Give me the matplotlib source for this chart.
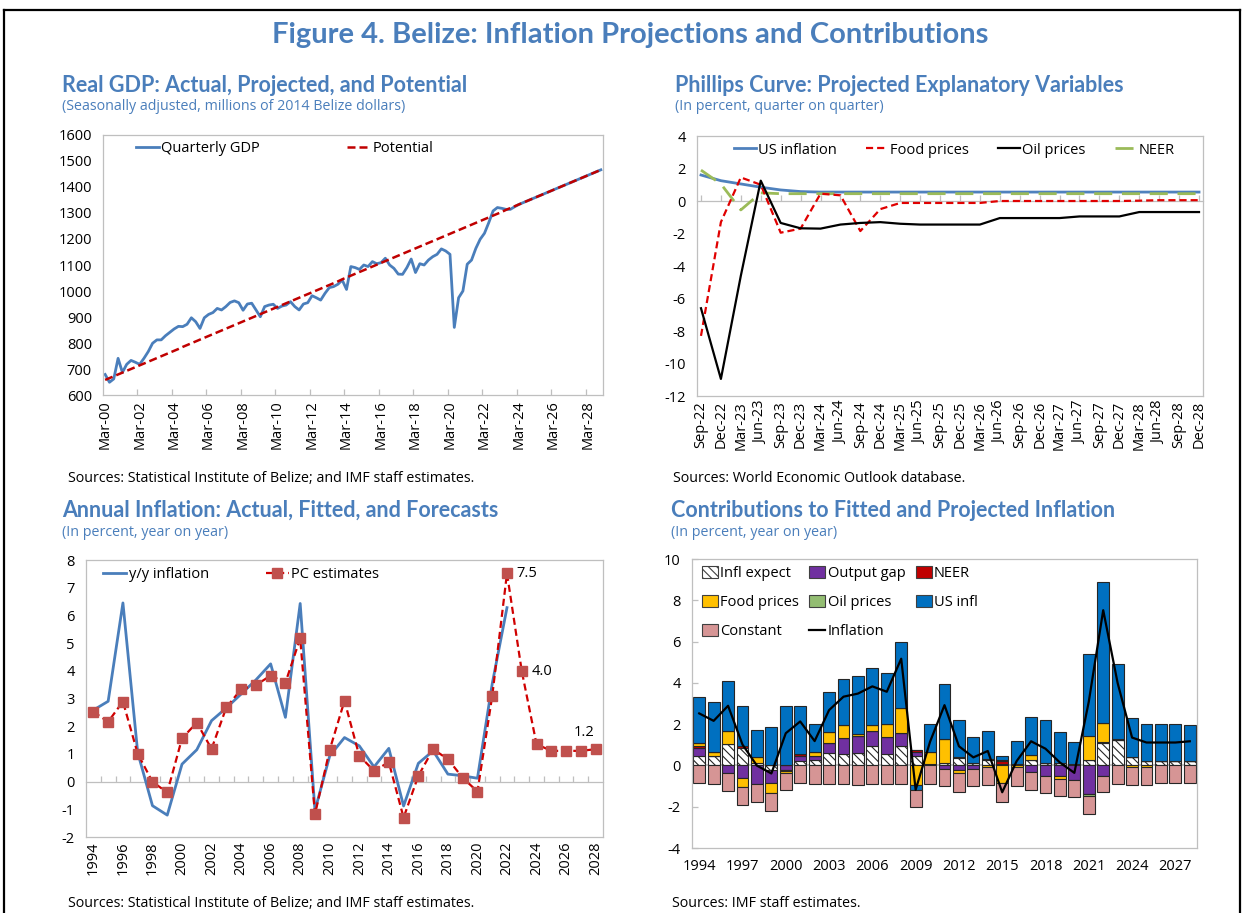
import matplotlib
matplotlib.use("Agg")
import matplotlib.pyplot as plt
from matplotlib.lines import Line2D
from matplotlib.patches import Patch
import numpy as np

# ---------------- Data ----------------
# Panel 1: Real GDP, quarterly Mar-00 .. Dec-28 (millions of 2014 BZ$)
gdp_actual = [679, 649, 662, 741, 687, 718, 733, 726, 718, 741,
              767, 799, 812, 812, 828, 841, 854, 864, 863, 872,
              897, 882, 856, 897, 910, 917, 933, 927, 940, 956,
              962, 955, 926, 950, 953, 927, 901, 940, 946, 949,
              933, 942, 946, 959, 940, 927, 950, 955, 982, 974,
              965, 991, 1013, 1017, 1026, 1042, 1006, 1094, 1090, 1083,
              1100, 1094, 1113, 1105, 1109, 1126, 1100, 1087, 1065, 1064,
              1090, 1123, 1071, 1105, 1100, 1119, 1132, 1141, 1162, 1154,
              1141, 860, 974, 1000, 1103, 1119, 1164, 1199, 1222, 1263,
              1308, 1321, 1318, 1314, 1314, 1324, 1333, 1340, 1347, 1354,
              1361, 1368, 1375, 1382, 1389, 1396, 1403, 1410, 1417, 1424,
              1431, 1438, 1445, 1452, 1459, 1466]
gdp_potential = [658, 665, 672, 679, 686, 693, 700, 707, 714, 721,
                 728, 735, 742, 749, 756, 763, 770, 777, 785, 792,
                 799, 806, 813, 820, 827, 834, 841, 848, 855, 862,
                 869, 876, 883, 890, 897, 904, 911, 918, 925, 932,
                 939, 946, 953, 960, 967, 974, 981, 988, 995, 1002,
                 1009, 1016, 1023, 1030, 1037, 1045, 1052, 1059, 1066, 1073,
                 1080, 1087, 1094, 1101, 1108, 1115, 1122, 1129, 1136, 1143,
                 1150, 1157, 1164, 1171, 1178, 1185, 1192, 1199, 1206, 1213,
                 1220, 1227, 1234, 1241, 1248, 1255, 1262, 1269, 1276, 1283,
                 1290, 1297, 1304, 1312, 1319, 1326, 1333, 1340, 1347, 1354,
                 1361, 1368, 1375, 1382, 1389, 1396, 1403, 1410, 1417, 1424,
                 1431, 1438, 1445, 1452, 1459, 1466]
gdp_tick_labels = ["Mar-00", "Mar-02", "Mar-04", "Mar-06", "Mar-08", "Mar-10",
                   "Mar-12", "Mar-14", "Mar-16", "Mar-18", "Mar-20", "Mar-22",
                   "Mar-24", "Mar-26", "Mar-28"]

# Panel 2: Phillips curve explanatory variables (q/q, %)
pc_quarters = ["Sep-22", "Dec-22", "Mar-23", "Jun-23", "Sep-23", "Dec-23",
               "Mar-24", "Jun-24", "Sep-24", "Dec-24", "Mar-25", "Jun-25",
               "Sep-25", "Dec-25", "Mar-26", "Jun-26", "Sep-26", "Dec-26",
               "Mar-27", "Jun-27", "Sep-27", "Dec-27", "Mar-28", "Jun-28",
               "Sep-28", "Dec-28"]
us_inflation_q = [1.60, 1.25, 1.05, 0.85, 0.68, 0.58, 0.55, 0.55, 0.55, 0.55,
                  0.55, 0.55, 0.55, 0.55, 0.55, 0.55, 0.55, 0.55, 0.55, 0.55,
                  0.55, 0.55, 0.55, 0.55, 0.55, 0.55]
food_prices_q = [-8.3, -1.3, 1.45, 1.0, -1.95, -1.7, 0.45, 0.35, -1.85, -0.5,
                 -0.12, -0.12, -0.12, -0.12, -0.12, 0.0, 0.0, 0.0, 0.0, 0.0,
                 0.0, 0.0, 0.02, 0.05, 0.05, 0.05]
oil_prices_q = [-6.6, -10.95, -4.6, 1.25, -1.35, -1.68, -1.7, -1.45, -1.35, -1.3,
                -1.4, -1.45, -1.45, -1.45, -1.45, -1.05, -1.05, -1.05, -1.05, -0.95,
                -0.95, -0.95, -0.68, -0.68, -0.68, -0.68]
neer_q = [1.9, 1.05, -0.55, 0.5, 0.45, 0.45, 0.45, 0.45, 0.45, 0.45,
          0.45, 0.45, 0.45, 0.45, 0.45, 0.45, 0.45, 0.45, 0.45, 0.45,
          0.45, 0.45, 0.45, 0.45, 0.45, 0.45]

# Panel 3: annual inflation (y/y, %)
years = list(range(1994, 2029))
yy_inflation = [2.58, 2.90, 6.45, 1.05, -0.87, -1.21, 0.63, 1.15, 2.20, 2.66,
                3.16, 3.67, 4.25, 2.32, 6.43, -1.04, 0.93, 1.59, 1.29, 0.53,
                1.20, -0.88, 0.66, 1.11, 0.27, 0.21, 0.12, 3.53, 6.28]
pc_estimates = [2.52, 2.16, 2.89, 1.01, -0.01, -0.39, 1.56, 2.13, 1.18, 2.68,
                3.33, 3.48, 3.83, 3.57, 5.17, -1.18, 1.15, 2.92, 0.93, 0.39,
                0.70, -1.30, 0.21, 1.17, 0.81, 0.14, -0.36, 3.09, 7.52, 3.99,
                1.35, 1.11, 1.11, 1.11, 1.17]

# Panel 4: contributions (pp), 1994..2028
infl_expect = [0.45, 0.48, 1.04, 0.85, 0.10, -0.22, 0.0, 0.20, 0.24, 0.58,
               0.55, 0.61, 0.95, 0.56, 0.93, 0.48, 0.08, 0.13, 0.37, 0.10,
               0.24, 0.05, 0.05, 0.24, 0.13, 0.10, 0.05, 0.24, 1.10, 1.23,
               0.42, 0.21, 0.20, 0.20, 0.20]
output_gap = [0.40, 0.0, -0.38, -0.60, -0.92, -0.64, -0.22, 0.24, 0.20, 0.51,
              0.79, 0.83, 0.72, 0.82, 0.64, 0.16, 0.0, -0.19, -0.22, -0.16,
              0.08, 0.0, 0.0, -0.32, -0.49, -0.49, -0.73, -1.38, -0.49, 0.0,
              0.0, 0.0, 0.0, 0.0, 0.0]
neer_contrib = [0.08, 0.0, 0.0, 0.08, 0.0, 0.0, -0.05, 0.10, 0.0, 0.0,
                0.0, 0.0, 0.0, 0.0, 0.0, 0.13, 0.0, 0.0, 0.05, 0.0,
                0.0, 0.15, 0.0, 0.0, 0.0, 0.0, 0.0, 0.0, 0.05, 0.06,
                0.0, 0.0, 0.0, 0.0, 0.0]
food_contrib = [0.15, 0.15, 0.61, -0.45, 0.30, -0.48, -0.10, 0.0, 0.19, 0.51,
                0.61, 0.10, 0.30, 0.64, 1.20, -0.96, 0.56, 1.16, -0.16, 0.0,
                -0.10, -0.87, -0.06, 0.26, 0.0, -0.16, 0.0, 1.17, 0.89, 0.0,
                -0.10, -0.06, 0.0, 0.0, 0.0]
oil_contrib = [0.0, 0.0, 0.0, 0.0, 0.0, 0.0, 0.0, 0.0, 0.0, 0.0,
               0.0, 0.0, 0.0, 0.0, 0.0, 0.0, 0.0, 0.0, 0.0, 0.0,
               0.0, 0.05, 0.0, 0.0, 0.0, 0.0, 0.0, -0.08, 0.0, 0.0,
               0.0, 0.0, 0.0, 0.0, 0.0]
us_infl_contrib = [2.22, 2.42, 2.46, 1.96, 1.33, 1.85, 2.89, 2.36, 1.37, 1.94,
                   2.25, 2.81, 2.76, 2.44, 3.21, -0.22, 1.38, 2.65, 1.77, 1.30,
                   1.33, 0.20, 1.12, 1.85, 2.05, 1.54, 1.08, 3.98, 6.83, 3.61,
                   1.90, 1.82, 1.79, 1.79, 1.76]
constant_contrib = [-0.83, -0.92, -0.88, -0.87, -0.85, -0.85, -0.80, -0.87, -0.88, -0.92,
                    -0.90, -0.95, -0.88, -0.92, -0.88, -0.85, -0.88, -0.83, -0.90, -0.83,
                    -0.87, -0.88, -0.93, -0.87, -0.86, -0.85, -0.82, -0.87, -0.81, -0.92,
                    -0.86, -0.88, -0.84, -0.84, -0.84]
inflation_line = pc_estimates

# ---------------- Style ----------------
W, H = 1244, 913
TITLE_BLUE = "#4A7EBB"
GRAY = "#BFBFBF"
TXT = "#000000"
plt.rcParams['font.family'] = ['Open Sans', 'DejaVu Sans']
plt.rcParams['axes.unicode_minus'] = False
plt.rcParams['hatch.linewidth'] = 0.8
TICK_FS = 10.5
LEG_FS = 10.5

fig = plt.figure(figsize=(W / 100, H / 100), dpi=100)


def axes_px(l, t, r, b):
    return fig.add_axes([l / W, 1 - b / H, (r - l) / W, (b - t) / H])


def text_px(x, y, s, **kw):
    fig.text(x / W, 1 - y / H, s, **kw)


def style_axes(ax):
    for sp in ax.spines.values():
        sp.set_color(GRAY)
        sp.set_linewidth(0.9)
    ax.tick_params(axis='both', labelsize=TICK_FS, colors=TXT)
    ax.tick_params(axis='y', length=0, pad=8)
    ax.tick_params(axis='x', length=0)


def zero_axis(ax, ticks):
    sec = ax.secondary_xaxis(0, transform=ax.transData)
    sec.set_xticks(ticks)
    sec.set_xticklabels([])
    sec.tick_params(axis='x', direction='in', length=4, color=GRAY, width=0.9)
    for sp in sec.spines.values():
        sp.set_color(GRAY)
        sp.set_linewidth(0.9)
    return sec


# Frame
fig.add_artist(Line2D([4 / W, 4 / W], [0, 1 - 10 / H], color='black', lw=1.6, transform=fig.transFigure))
fig.add_artist(Line2D([1240 / W, 1240 / W], [0, 1 - 10 / H], color='black', lw=1.6, transform=fig.transFigure))
fig.add_artist(Line2D([4 / W, 1240 / W], [1 - 10 / H, 1 - 10 / H], color='black', lw=1.6, transform=fig.transFigure))

# Titles
text_px(630, 35, "Figure 4. Belize: Inflation Projections and Contributions", ha='center', va='center',
        fontsize=21, fontweight='bold', color=TITLE_BLUE, family=['Lato', 'DejaVu Sans'])
panel_titles = [
    (62, 86, "Real GDP: Actual, Projected, and Potential", 107, "(Seasonally adjusted, millions of 2014 Belize dollars)"),
    (675, 86, "Phillips Curve: Projected Explanatory Variables", 107, "(In percent, quarter on quarter)"),
    (62, 510, "Annual Inflation: Actual, Fitted, and Forecasts", 532, "(In percent, year on year)"),
    (671, 510, "Contributions to Fitted and Projected Inflation", 532, "(In percent, year on year)"),
]
for x, y, t, ys, st in panel_titles:
    text_px(x, y, t, ha='left', va='center', fontsize=15.5, fontweight='bold', color=TITLE_BLUE,
            family=['Lato', 'DejaVu Sans'])
    text_px(x, ys, st, ha='left', va='center', fontsize=10.3, color=TITLE_BLUE)

sources = [
    (68, 478, "Sources: Statistical Institute of Belize; and IMF staff estimates."),
    (673, 478, "Sources: World Economic Outlook database."),
    (68, 903, "Sources: Statistical Institute of Belize; and IMF staff estimates."),
    (672, 903, "Sources: IMF staff estimates."),
]
for x, y, s in sources:
    text_px(x, y, s, ha='left', va='center', fontsize=10.3, color=TXT)

# ---------------- Panel 1 ----------------
ax1 = axes_px(103, 135, 603, 395)
style_axes(ax1)
n1 = len(gdp_actual)
q = np.arange(n1)
l_gdp, = ax1.plot(q, gdp_actual, color="#4A7EBB", lw=2.0, zorder=2)
l_pot, = ax1.plot(q, gdp_potential, color="#C00000", lw=1.8, ls=(0, (3.2, 1.6)), zorder=3)
ax1.set_xlim(-0.5, n1 - 0.5)
ax1.set_ylim(600, 1600)
ax1.set_yticks(np.arange(600, 1601, 100))
ax1.set_xticks(np.arange(0, n1, 8))
ax1.set_xticklabels(gdp_tick_labels, rotation=90)
ax1.set_xticks(np.arange(8, n1, 8) - 0.5, minor=True)
ax1.tick_params(axis='x', which='minor', direction='in', length=4, color=GRAY, width=0.9)
ax1.legend([l_gdp, l_pot], ["Quarterly GDP", "Potential"], ncol=2, loc='upper left',
           bbox_to_anchor=(0.065, 0.975), frameon=False, fontsize=LEG_FS, handlelength=1.6,
           handletextpad=0.15, columnspacing=6.0, borderaxespad=0, borderpad=0)

# ---------------- Panel 2 ----------------
ax2 = axes_px(697, 136, 1203, 396)
style_axes(ax2)
n2 = len(pc_quarters)
x2 = np.arange(n2)
h_us, = ax2.plot(x2, us_inflation_q, color="#4F81BD", lw=2.0, zorder=3)
h_food, = ax2.plot(x2, food_prices_q, color="#E00000", lw=1.6, ls=(0, (3.2, 1.8)), zorder=4)
h_oil, = ax2.plot(x2, oil_prices_q, color="#000000", lw=1.6, zorder=5)
h_neer, = ax2.plot(x2, neer_q, color="#9BBB59", lw=2.0, ls=(0, (6.5, 3.5)), zorder=3)
ax2.set_xlim(-0.2, n2 - 0.8)
ax2.set_ylim(-12, 4)
ax2.set_yticks(np.arange(-12, 5, 2))
ax2.set_xticks(x2)
ax2.set_xticklabels(pc_quarters, rotation=90)
zero_axis(ax2, x2)
ax2.legend([h_us, h_food, h_oil, h_neer], ["US inflation", "Food prices", "Oil prices", "NEER"],
           ncol=4, loc='upper left', bbox_to_anchor=(0.073, 0.975), frameon=False, fontsize=LEG_FS,
           handlelength=1.5, handletextpad=0.15, columnspacing=2.0, borderaxespad=0, borderpad=0)

# ---------------- Panel 3 ----------------
ax3 = axes_px(86, 560, 603, 837)
style_axes(ax3)
n3 = len(years)
x3 = np.arange(n3)
h_yy, = ax3.plot(x3[:len(yy_inflation)], yy_inflation, color="#4A7EBB", lw=2.0, zorder=3)
h_pc, = ax3.plot(x3, pc_estimates, color="#D00000", lw=1.6, ls=(0, (3.2, 1.8)), marker='s',
                 markersize=6.5, markerfacecolor="#C0504D", markeredgecolor="#C0504D", zorder=4)
ax3.set_xlim(-0.5, n3 - 0.5)
ax3.set_ylim(-2, 8)
ax3.set_yticks(np.arange(-2, 9, 1))
ax3.set_xticks(x3[::2])
ax3.set_xticklabels([str(y) for y in years[::2]], rotation=90)
zero_axis(ax3, x3[1:] - 0.5)
ax3.legend([h_yy, h_pc], ["y/y inflation", "PC estimates"], ncol=2, loc='upper left',
           bbox_to_anchor=(0.033, 0.975), frameon=False, fontsize=LEG_FS, handlelength=1.6,
           handletextpad=0.15, columnspacing=3.9, borderaxespad=0, borderpad=0)
i22 = years.index(2022)
i23 = years.index(2023)
i28 = years.index(2028)
ax3.annotate(f"{pc_estimates[i22]:.1f}", (i22, pc_estimates[i22]), xytext=(7, 0),
             textcoords='offset points', ha='left', va='center', fontsize=LEG_FS)
ax3.annotate(f"{pc_estimates[i23]:.1f}", (i23, pc_estimates[i23]), xytext=(7, 0),
             textcoords='offset points', ha='left', va='center', fontsize=LEG_FS)
ax3.annotate(f"{pc_estimates[i28]:.1f}", (i28, pc_estimates[i28]), xytext=(-8, 12),
             textcoords='offset points', ha='center', va='center', fontsize=LEG_FS)

# ---------------- Panel 4 ----------------
ax4 = axes_px(692, 559, 1197, 848)
style_axes(ax4)
x4 = np.arange(len(years))
components = [
    ("Infl expect", infl_expect, "white", "\\\\\\\\"),
    ("Output gap", output_gap, "#7030A0", None),
    ("NEER", neer_contrib, "#C00000", None),
    ("Food prices", food_contrib, "#FFC000", None),
    ("Oil prices", oil_contrib, "#93BD72", None),
    ("US infl", us_infl_contrib, "#0070C0", None),
    ("Constant", constant_contrib, "#D69595", None),
]
pos_base = np.zeros(len(years))
neg_base = np.zeros(len(years))
handles = {}
ax4.axhline(0, color=GRAY, lw=1.2, zorder=1)
for name, vals, col, hatch in components:
    v = np.array(vals, dtype=float)
    bottom = np.where(v >= 0, pos_base, neg_base)
    ax4.bar(x4, v, bottom=bottom, width=0.82, color=col, edgecolor="#262626", linewidth=0.8,
            hatch=hatch, zorder=2)
    pos_base = pos_base + np.where(v >= 0, v, 0)
    neg_base = neg_base + np.where(v < 0, v, 0)
    handles[name] = Patch(facecolor=col, edgecolor="#404040", linewidth=0.8, hatch=hatch)
h_infl, = ax4.plot(x4, inflation_line, color='black', lw=1.6, zorder=5)
handles["Inflation"] = h_infl
ax4.set_xlim(-0.5, len(years) - 0.5)
ax4.set_ylim(-4, 10)
ax4.set_yticks(np.arange(-4, 11, 2))
ax4.tick_params(axis='y', direction='in', length=4, color=GRAY, width=0.9, pad=8)
tick_years = years[::3]
ax4.set_xticks([years.index(y) for y in tick_years])
ax4.set_xticklabels([str(y) for y in tick_years])
ax4.tick_params(axis='x', pad=8)
order = ["Infl expect", "Food prices", "Constant", "Output gap", "Oil prices", "Inflation", "NEER", "US infl"]
ax4.legend([handles[k] for k in order], order, ncol=3, loc='upper left',
           bbox_to_anchor=(0.02, 0.975), frameon=False, fontsize=LEG_FS, handlelength=1.1,
           handleheight=0.9, handletextpad=0.15, columnspacing=0.7, labelspacing=0.95,
           borderaxespad=0, borderpad=0)

fig.savefig("out.png", dpi=100)
